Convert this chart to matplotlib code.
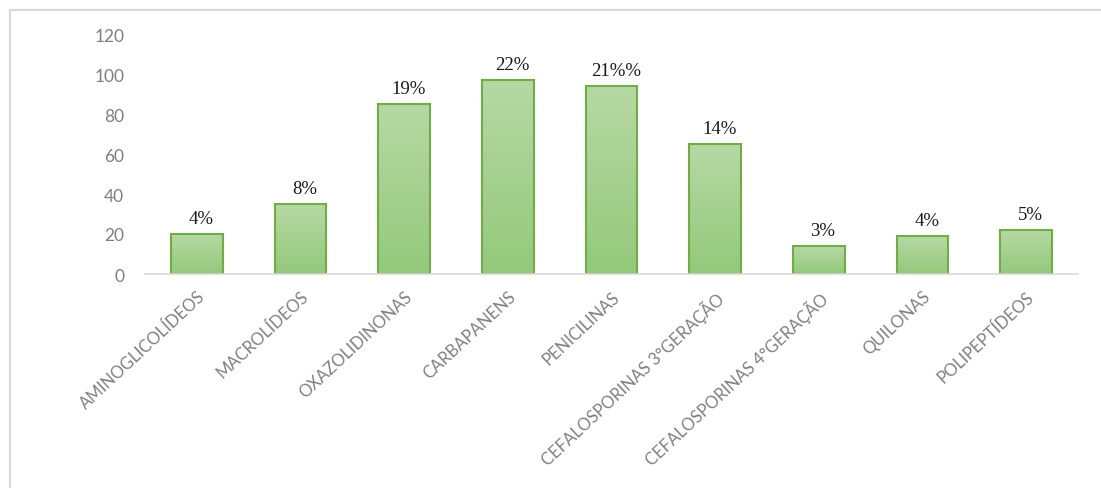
import numpy as np
import matplotlib.pyplot as plt
from matplotlib.lines import Line2D
from matplotlib.colors import LinearSegmentedColormap

# antibiotic classes and counts
classes = ['AMINOGLICOLÍDEOS', 'MACROLÍDEOS', 'OXAZOLIDINONAS', 'CARBAPANENS',
           'PENICILINAS', 'CEFALOSPORINAS 3°GERAÇÃO', 'CEFALOSPORINAS 4°GERAÇÃO',
           'QUILONAS', 'POLIPEPTÍDEOS']
counts = [20, 35, 85, 97, 94, 65, 14, 19, 22]
pct_labels = ['4%', '8%', '19%', '22%', '21%%', '14%', '3%', '4%', '5%']
y_ticks = [0, 20, 40, 60, 80, 100, 120]

W, H = 1101, 489
fig = plt.figure(figsize=(W / 100, H / 100), dpi=100)
ax = fig.add_axes([145 / W, 1 - 275 / H, (1078 - 145) / W, (275 - 35) / H])

x = np.arange(len(classes))
bars = ax.bar(x, counts, width=0.5, facecolor='none', edgecolor='#70ad47',
              linewidth=1.5, zorder=3)

# vertical gradient inside each bar
grad = LinearSegmentedColormap.from_list('g', ['#94c97b', '#b6d8a4'])
for b in bars:
    x0, w, h = b.get_x(), b.get_width(), b.get_height()
    im = ax.imshow(np.linspace(0, 1, 100).reshape(-1, 1), cmap=grad,
                   origin='lower', extent=[x0, x0 + w, 0, h], aspect='auto',
                   zorder=2)
    im.set_clip_path(b)

for xi, c, lab in zip(x, counts, pct_labels):
    ax.annotate(lab, (xi, c), xytext=(3, 5), textcoords='offset points',
                ha='center', va='bottom', fontsize=13.5,
                family='Liberation Serif', color='#1a1a1a')

ax.set_xlim(-0.5, len(classes) - 0.5)
ax.set_ylim(0, 120)
ax.set_yticks(y_ticks)
ax.set_yticklabels([str(t) for t in y_ticks], family='Lato', fontsize=12.5,
                   color='#7f7f7f')
ax.set_xticks(x)
ax.set_xticklabels(classes, rotation=43, ha='right', va='top',
                   rotation_mode='anchor', family='Lato', fontsize=12,
                   color='#808080')
ax.tick_params(axis='both', length=0)
ax.tick_params(axis='y', pad=15)
ax.tick_params(axis='x', pad=10)

for s in ['top', 'right', 'left']:
    ax.spines[s].set_visible(False)
ax.spines['bottom'].set_color('#d9d9d9')
ax.spines['bottom'].set_linewidth(1.2)
ax.spines['bottom'].set_zorder(4)

# light frame along the top and left edges
fig.add_artist(Line2D([10 / W, 1], [1 - 11 / H, 1 - 11 / H], color='#d9d9d9', lw=1.5))
fig.add_artist(Line2D([10 / W, 10 / W], [0, 1 - 11 / H], color='#d9d9d9', lw=1.5))

fig.savefig('out.png', dpi=100)
